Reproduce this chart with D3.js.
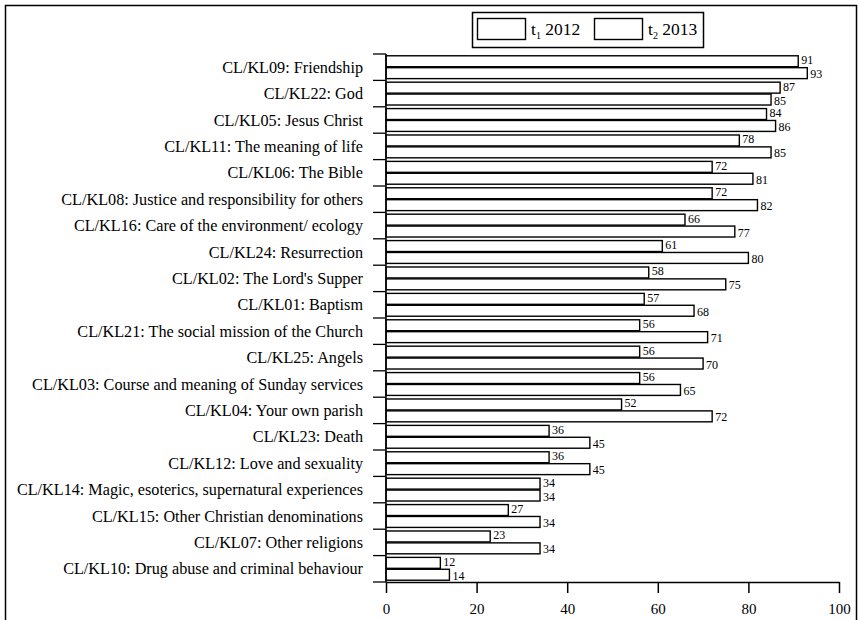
<!DOCTYPE html>
<html><head><meta charset="utf-8">
<script src="https://cdn.jsdelivr.net/npm/d3@7"></script>
<style>
html,body{margin:0;padding:0;background:#fff;}
svg{display:block;}
text{font-family:"Liberation Serif","Times New Roman",serif;fill:#000;}
</style></head>
<body>
<script>
const categories = [
  "CL/KL09: Friendship",
  "CL/KL22: God",
  "CL/KL05: Jesus Christ",
  "CL/KL11: The meaning of life",
  "CL/KL06: The Bible",
  "CL/KL08: Justice and responsibility for others",
  "CL/KL16: Care of the environment/ ecology",
  "CL/KL24: Resurrection",
  "CL/KL02: The Lord's Supper",
  "CL/KL01: Baptism",
  "CL/KL21: The social mission of the Church",
  "CL/KL25: Angels",
  "CL/KL03: Course and meaning of Sunday services",
  "CL/KL04: Your own parish",
  "CL/KL23: Death",
  "CL/KL12: Love and sexuality",
  "CL/KL14: Magic, esoterics, supernatural experiences",
  "CL/KL15: Other Christian denominations",
  "CL/KL07: Other religions",
  "CL/KL10: Drug abuse and criminal behaviour"
];
const t1_2012 = [91,87,84,78,72,72,66,61,58,57,56,56,56,52,36,36,34,27,23,12];
const t2_2013 = [93,85,86,85,81,82,77,80,75,68,71,70,65,72,45,45,34,34,34,14];
const xTicks = [0,20,40,60,80,100];
const seriesKeys = ["t1","t2"];

const W = 859, H = 620;
const svg = d3.select("body").append("svg").attr("width", W).attr("height", H);

// outer frame
svg.append("rect").attr("x",5.5).attr("y",5.5).attr("width",851).attr("height",630)
  .attr("fill","none").attr("stroke","#000").attr("stroke-width",1.5);

const x = d3.scaleLinear().domain([0,100]).range([386,839]);
const y = d3.scaleBand().domain(categories).range([54,582]).paddingInner(0).paddingOuter(0);
const ys = d3.scaleBand().domain(seriesKeys).range([0,y.bandwidth()]).paddingInner(0.08).paddingOuter(0.15);

const rows = categories.map((c,i)=>({cat:c, t1:t1_2012[i], t2:t2_2013[i]}));
const labelShift = {t1:-1.2, t2:0.8};

const g = svg.append("g");

// bars
seriesKeys.forEach(k=>{
  g.selectAll("rect.bar-"+k).data(rows).enter().append("rect")
    .attr("x", x(0))
    .attr("y", d=>y(d.cat)+ys(k))
    .attr("width", d=>x(d[k])-x(0))
    .attr("height", ys.bandwidth())
    .attr("fill","#fff").attr("stroke","#000").attr("stroke-width",1.4);
  g.selectAll("text.val-"+k).data(rows).enter().append("text")
    .attr("x", d=>x(d[k])+3)
    .attr("y", d=>y(d.cat)+ys(k)+ys.bandwidth()/2+labelShift[k])
    .attr("dy","0.35em")
    .attr("font-size",12)
    .text(d=>d[k]);
});

// y axis: line + boundary ticks
g.append("line").attr("x1",x(0)).attr("x2",x(0)).attr("y1",y.range()[0]).attr("y2",y.range()[1])
  .attr("stroke","#000").attr("stroke-width",1.5);
const bounds = categories.map(c=>y(c)).concat([y.range()[1]]);
g.selectAll("line.ytick").data(bounds).enter().append("line")
  .attr("x1",x(0)-13).attr("x2",x(0)).attr("y1",d=>d).attr("y2",d=>d)
  .attr("stroke","#000").attr("stroke-width",1.3);

// category labels
g.selectAll("text.cat").data(categories).enter().append("text")
  .attr("x",363).attr("y",d=>y(d)+y.bandwidth()/2).attr("dy","0.35em")
  .attr("text-anchor","end").attr("font-size",16.2)
  .text(d=>d);

// x axis
const xa = g.append("g").attr("transform","translate(0,582)")
  .call(d3.axisBottom(x).tickValues(xTicks).tickSize(11).tickSizeOuter(0).tickPadding(10));
xa.select(".domain").attr("stroke","#000").attr("stroke-width",1.5);
xa.selectAll(".tick line").attr("stroke","#000").attr("stroke-width",1.5);
xa.selectAll(".tick text").attr("font-size",15).attr("font-family","Liberation Serif, serif").attr("fill","#000");

// legend
const lg = svg.append("g");
lg.append("rect").attr("x",472.5).attr("y",12.5).attr("width",231).attr("height",35)
  .attr("fill","#fff").attr("stroke","#000").attr("stroke-width",1.5);
const legendItems = [{x:477, sub:"1", year:"2012"},{x:594, sub:"2", year:"2013"}];
legendItems.forEach(it=>{
  lg.append("rect").attr("x",it.x+0.5).attr("y",18.5).attr("width",48).attr("height",21)
    .attr("fill","#fff").attr("stroke","#000").attr("stroke-width",1.4);
  const t = lg.append("text").attr("x",it.x+54).attr("y",35).attr("font-size",17.5);
  t.append("tspan").text("t");
  t.append("tspan").attr("font-size",10).attr("dy",4).text(it.sub);
  t.append("tspan").attr("dy",-4).text(" "+it.year);
});
</script>
</body></html>
